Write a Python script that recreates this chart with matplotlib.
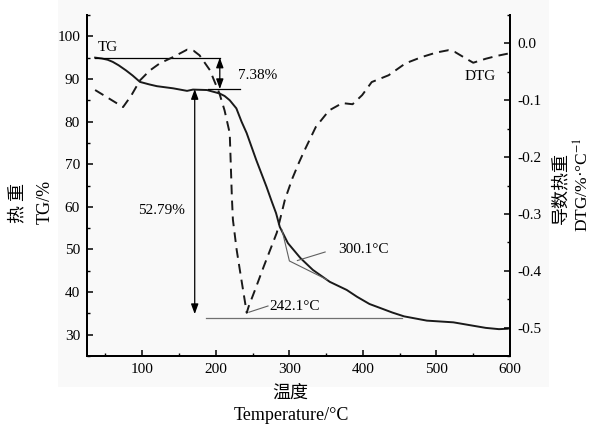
import matplotlib
matplotlib.use("Agg")
import matplotlib.pyplot as plt
from matplotlib.ticker import MultipleLocator, FormatStrFormatter
from matplotlib.patches import Rectangle

plt.rcParams['font.family'] = ['Liberation Serif', 'Noto Sans CJK SC']
plt.rcParams['mathtext.fontset'] = 'stix'
plt.rcParams['axes.unicode_minus'] = False

# TG curve: mass remaining (%) vs temperature (°C)
temp_tg = [36, 45, 53, 60, 68, 78, 87, 97, 110, 120, 142, 161, 169, 188, 205,
           212, 219, 228, 235, 242, 255, 269, 276, 282, 287, 298, 315, 332,
           355, 378, 392, 409, 423, 440, 456, 487, 523, 550, 567, 585, 597]
tg = [95.0, 94.8, 94.5, 94.0, 93.2, 92.0, 90.8, 89.3, 88.7, 88.3, 87.8, 87.2,
      87.5, 87.4, 86.6, 86.0, 85.0, 83.1, 80.0, 77.3, 71.0, 64.7, 61.3, 58.5,
      55.3, 51.5, 48.0, 45.2, 42.4, 40.5, 38.9, 37.2, 36.3, 35.2, 34.3, 33.3,
      32.9, 32.1, 31.6, 31.3, 31.4]

# DTG curve: derivative of mass loss (%/°C)
temp_dtg = [36, 55, 74, 85, 97, 110, 124, 142, 161, 170, 178, 192, 205, 212,
            219, 221.9, 223.3, 228.4, 233.4, 238.5, 242.1, 244.7, 253.6, 265.1,
            283, 294, 304, 313, 320, 336, 354, 372, 386, 399, 412, 435, 458,
            480, 500, 516, 525, 538, 550, 567, 582, 597]
dtg = [-0.082, -0.097, -0.112, -0.092, -0.065, -0.048, -0.035, -0.024, -0.011,
       -0.013, -0.021, -0.047, -0.088, -0.118, -0.158, -0.270, -0.310, -0.363,
       -0.404, -0.445, -0.474, -0.463, -0.433, -0.393, -0.333, -0.275, -0.238,
       -0.210, -0.190, -0.147, -0.118, -0.105, -0.107, -0.091, -0.068, -0.056,
       -0.035, -0.024, -0.016, -0.012, -0.015, -0.025, -0.034, -0.027, -0.022,
       -0.018]

# characteristic values
tg_start = 95.0
first_loss = 7.38
main_loss = 52.79
peak_temp = 242.1
peak_dtg = -0.474
onset_temp = 300.1
onset_tg = 47.3

fig = plt.figure(figsize=(5.94, 4.26), dpi=100)
fig.patches.append(Rectangle((58 / 594, 1 - 387 / 426), (549 - 58) / 594, 387 / 426,
                             transform=fig.transFigure, facecolor='#f9f9f9',
                             edgecolor='none', zorder=-1))

ax = fig.add_axes([0.1465, 0.1643, 0.7121, 0.8005])
ax.patch.set_visible(False)
ax2 = ax.twinx()
ax2.patch.set_visible(False)

ax.plot(temp_tg, tg, color='#1a1a1a', lw=1.4, solid_joinstyle='round')
ax2.plot(temp_dtg, dtg, color='#1a1a1a', lw=1.4, dashes=(5, 3.2))

ax.set_xlim(25, 600)
ax.set_ylim(25, 105)
ax2.set_ylim(-0.55, 0.05)

ax.xaxis.set_major_locator(MultipleLocator(100))
ax.xaxis.set_minor_locator(MultipleLocator(50))
ax.yaxis.set_major_locator(MultipleLocator(10))
ax.yaxis.set_minor_locator(MultipleLocator(5))
ax2.yaxis.set_major_locator(MultipleLocator(0.1))
ax2.yaxis.set_minor_locator(MultipleLocator(0.05))
ax2.yaxis.set_major_formatter(FormatStrFormatter('%.1f'))

for a in (ax, ax2):
    a.spines['top'].set_visible(False)
    for s in a.spines.values():
        s.set_linewidth(1.4)
    a.tick_params(which='major', direction='in', length=4, width=1.1,
                  labelsize=11, pad=5)
    a.tick_params(which='minor', direction='in', length=2.5, width=1.0)
ax.tick_params(axis='y', right=False)
ax2.tick_params(axis='y', left=False)

# annotation lines
lw_a = 0.9
ax.plot([36, 205.5], [tg_start, tg_start], color='black', lw=lw_a)
lower = tg_start - first_loss
ax.plot([190, 233], [lower, lower], color='black', lw=lw_a)
arrow_style = dict(arrowstyle='<|-|>,head_length=0.6,head_width=0.22',
                   lw=lw_a, color='black', mutation_scale=10,
                   shrinkA=0, shrinkB=0)
ax.annotate('', xy=(205.5, tg_start), xytext=(205.5, lower), arrowprops=arrow_style)
ax.annotate('', xy=(171.4, lower), xytext=(171.4, lower - main_loss),
            arrowprops=arrow_style)
ax.plot([187.3, 453.3], [33.9, 33.9], color='#707070', lw=lw_a)

# tangent construction for onset temperature
ax.plot([290.0, onset_temp, 351.4], [54.6, onset_tg, 42.9], color='#606060', lw=0.8)
ax.plot([348.7, 311.0], [49.4, 47.4], color='#606060', lw=0.8)

# DTG peak pointer
ax2.plot([245.0, 271.0], [-0.473, -0.462], color='#606060', lw=0.8)

fs = 11
ax.text(54, 97.4, 'TG', fontsize=fs, ha='center', va='center')
ax.text(257, 90.9, '7.38%', fontsize=fs, ha='center', va='center')
ax.text(126, 59.1, '52.79%', fontsize=fs, ha='center', va='center')
ax.text(366, 50.1, '300.1°C', fontsize=fs, ha='left', va='center')
ax2.text(273, -0.463, '242.1°C', fontsize=fs, ha='left', va='center')
ax2.text(560, -0.059, 'DTG', fontsize=fs, ha='center', va='center')

# axis titles
fig.text(17 / 594, 1 - 203 / 426, '热 重', rotation=90, fontsize=13,
         family='Noto Sans CJK SC', ha='center', va='center')
fig.text(45 / 594, 1 - 202 / 426, 'TG/%', rotation=90, fontsize=13,
         ha='center', va='center')
fig.text(560 / 594, 1 - 188 / 426, '导数热重', rotation=90, fontsize=13,
         family='Noto Sans CJK SC', ha='center', va='center')
fig.text(583 / 594, 1 - 185 / 426, 'DTG/%·°C$^{-1}$', rotation=90, fontsize=12.5,
         ha='center', va='center')
fig.text(290 / 594, 1 - 393 / 426, '温度', fontsize=13,
         family='Noto Sans CJK SC', ha='center', va='center')
fig.text(291 / 594, 1 - 416 / 426, 'Temperature/°C', fontsize=13,
         ha='center', va='center')

fig.savefig('out.png', dpi=100)
